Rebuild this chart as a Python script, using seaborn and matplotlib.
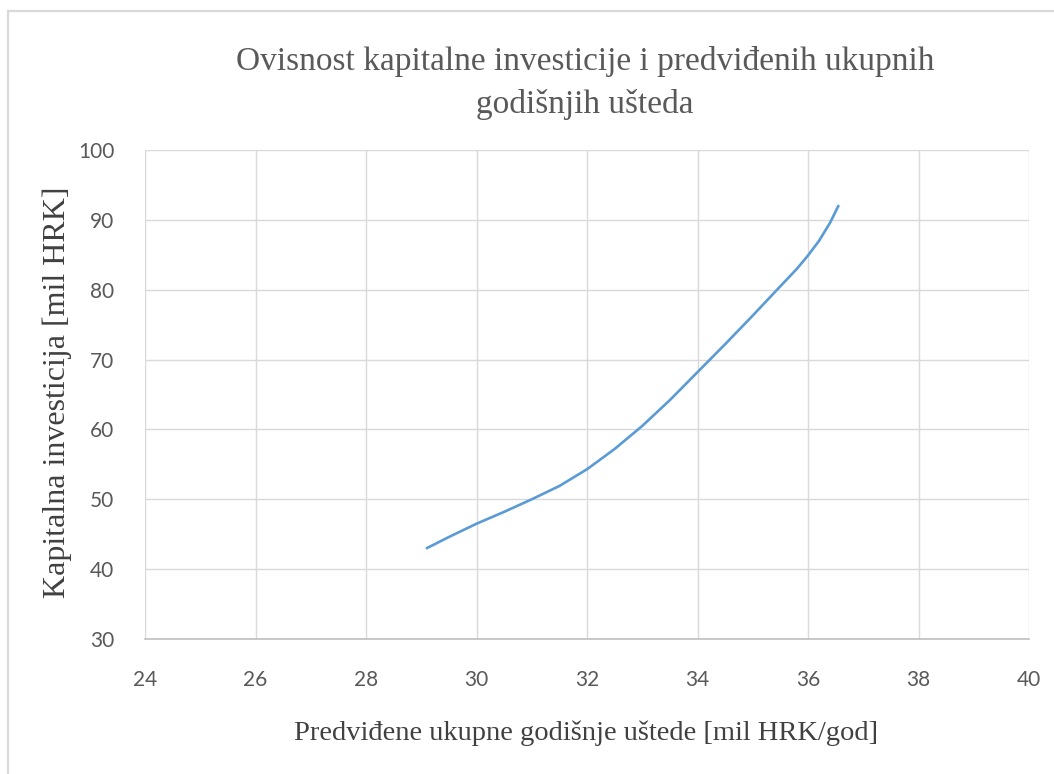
import matplotlib
matplotlib.use("Agg")
import matplotlib.pyplot as plt
import matplotlib.patches as mpatches
import seaborn as sns
import pandas as pd

# Predicted total annual savings [mil HRK/god] vs. capital investment [mil HRK]
savings = [29.1, 29.5, 30.0, 30.5, 31.0, 31.5, 32.0, 32.5, 33.0, 33.5, 34.0, 34.5, 35.0, 35.5, 35.8, 36.0, 36.2, 36.4, 36.55]
investment = [43.0, 44.6, 46.5, 48.2, 50.0, 51.9, 54.3, 57.2, 60.5, 64.2, 68.2, 72.2, 76.3, 80.5, 83.0, 84.9, 87.0, 89.6, 92.0]

x_ticks = [24, 26, 28, 30, 32, 34, 36, 38, 40]
y_ticks = [30, 40, 50, 60, 70, 80, 90, 100]

title_text = "Ovisnost kapitalne investicije i predviđenih ukupnih\ngodišnjih ušteda"
x_label = "Predviđene ukupne godišnje uštede [mil HRK/god]"
y_label = "Kapitalna investicija [mil HRK]"

df = pd.DataFrame({"savings": savings, "investment": investment})

sns.set_style("white")
plt.rcParams["font.family"] = ["Lato", "DejaVu Sans"]

fig = plt.figure(figsize=(10.54, 7.74), dpi=100)
ax = fig.add_axes([145 / 1054, 1 - 639 / 774, (1029 - 145) / 1054, (639 - 150) / 774])

sns.lineplot(data=df, x="savings", y="investment", sort=False, ax=ax,
             color="#5B9BD5", linewidth=1.9)

ax.set_xlim(24, 40)
ax.set_ylim(30, 100)
ax.set_xticks(x_ticks)
ax.set_yticks(y_ticks)
ax.grid(True, color="#D9D9D9", linewidth=1.0)
ax.set_axisbelow(True)
for side in ["top", "right", "left"]:
    ax.spines[side].set_visible(False)
ax.spines["bottom"].set_color("#BFBFBF")
ax.spines["bottom"].set_linewidth(1.2)
ax.tick_params(axis="both", length=0, labelsize=15, labelcolor="#595959")
ax.tick_params(axis="x", pad=22)
ax.tick_params(axis="y", pad=22)
ax.set_xlabel("")
ax.set_ylabel("")

serif = ["Liberation Serif", "DejaVu Serif"]
fig.text(585 / 1054, 1 - 83 / 774, title_text, ha="center", va="center",
         fontsize=24, color="#595959", family=serif, linespacing=1.5)
fig.text(586 / 1054, 1 - 733 / 774, x_label, ha="center", va="center",
         fontsize=20.5, color="#404040", family=serif)
fig.text(57 / 1054, 1 - 392 / 774, y_label, ha="center", va="center",
         rotation=90, fontsize=23, color="#404040", family=serif)

# Chart-area frame
frame = mpatches.Rectangle((8 / 1054, -0.05), 1.1, 1 - 11 / 774 + 0.05,
                           transform=fig.transFigure, fill=False,
                           edgecolor="#D9D9D9", linewidth=1.6, zorder=10)
fig.add_artist(frame)

fig.savefig("out.png", dpi=100)
